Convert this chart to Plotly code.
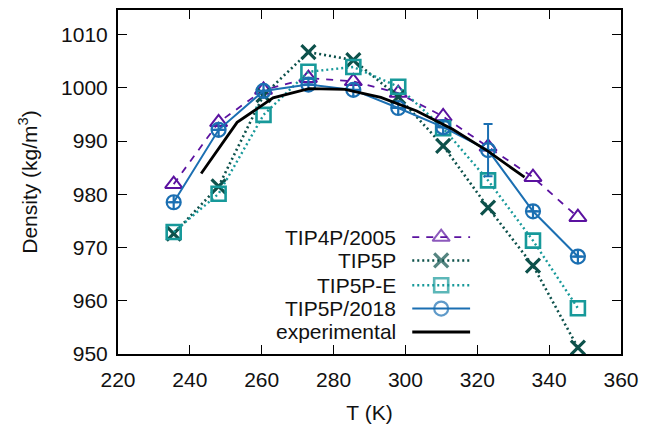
import plotly.graph_objects as go

# ---------------- data ----------------
T_sim = [235.5, 248.0, 260.5, 273.0, 285.5, 298.0, 310.5, 323.0, 335.5, 348.0]
rho_tip4p2005 = [981.9, 993.5, 999.6, 1001.8, 1001.2, 999.0, 994.6, 988.9, 983.2, 975.7]
rho_tip5p = [972.6, 981.5, 998.6, 1006.7, 1005.2, 998.3, 989.1, 977.5, 966.6, 951.2]
rho_tip5pe = [972.9, 980.1, 994.9, 1003.0, 1003.9, 1000.2, 992.4, 982.6, 971.3, 958.6]
rho_tip5p2018 = [978.5, 992.1, 999.4, 1000.6, 999.6, 996.2, 992.6, 988.3, 976.8, 968.3]
err_tip5p2018 = [None, None, None, None, None, None, None, 4.9, None, None]

T_exp = [243.15, 253.15, 263.15, 273.15, 283.15, 293.15, 303.15, 313.15, 323.15, 333.15]
rho_exp = [983.9, 993.5, 998.1, 999.84, 999.7, 998.2, 995.65, 992.2, 988.0, 983.2]

x_ticks = [220, 240, 260, 280, 300, 320, 340, 360]
y_ticks = [950, 960, 970, 980, 990, 1000, 1010]

names = ["TIP4P/2005", "TIP5P", "TIP5P-E", "TIP5P/2018", "experimental"]

# ---------------- styles ----------------
FONT = "Liberation Sans, Arial, sans-serif"
C4 = "#5b12a0"
C5 = "#0d514b"
C5E = "#17999a"
C18 = "#1b6fb2"
CEXP = "#000000"

styles = [
    dict(color=C4, dash="7px,7px", width=1.8, symbol="triangle-up-open", msize=15, mlw=2),
    dict(color=C5, dash="2px,3px", width=2.6, symbol="x-thin-open", msize=14, mlw=3.2),
    dict(color=C5E, dash="2px,3px", width=2.4, symbol="square-open", msize=14, mlw=2.6),
    dict(color=C18, dash="solid", width=2.0, symbol="circle-open", msize=14, mlw=2.2),
    dict(color=CEXP, dash="solid", width=2.8, symbol=None, msize=0, mlw=0),
]

fig = go.Figure()

series = [rho_tip4p2005, rho_tip5p, rho_tip5pe, rho_tip5p2018]
for i, ys in enumerate(series):
    st = styles[i]
    sym = st["symbol"]
    if names[i] == "TIP5P/2018":
        sym = "circle-cross-open"
    kw = {}
    if names[i] == "TIP5P/2018":
        kw["error_y"] = dict(type="data", array=[e if e is not None else 0 for e in err_tip5p2018],
                             visible=True, color=C18, thickness=2, width=4.5)
    fig.add_trace(go.Scatter(
        x=T_sim, y=ys, mode="lines+markers", name=names[i], showlegend=False,
        line=dict(color=st["color"], dash=st["dash"], width=st["width"]),
        marker=dict(symbol=sym, size=st["msize"], color=st["color"],
                    line=dict(color=st["color"], width=st["mlw"])),
        **kw))

fig.add_trace(go.Scatter(
    x=T_exp, y=rho_exp, mode="lines", name="experimental", showlegend=False,
    line=dict(color=CEXP, width=styles[4]["width"])))

# ---------------- manual gnuplot-style legend (text left, sample right) ----------------
leg_x0, leg_xm, leg_x1 = 0.585, 0.6425, 0.700
leg_text_x = 0.557
leg_rows = [0.340, 0.272, 0.200, 0.132, 0.064]
for i, nm in enumerate(names):
    st = styles[i]
    yy = leg_rows[i]
    if st["symbol"]:
        fig.add_trace(go.Scatter(
            x=[leg_x0, leg_xm, leg_x1], y=[yy, yy, yy], xaxis="x2", yaxis="y2",
            mode="lines+markers", showlegend=False, hoverinfo="skip",
            line=dict(color=st["color"], dash=st["dash"], width=st["width"]),
            marker=dict(symbol=st["symbol"], size=[0, st["msize"], 0], color=st["color"],
                        line=dict(color=st["color"], width=st["mlw"]))))
    else:
        fig.add_trace(go.Scatter(
            x=[leg_x0, leg_x1], y=[yy, yy], xaxis="x2", yaxis="y2",
            mode="lines", showlegend=False, hoverinfo="skip",
            line=dict(color=st["color"], width=st["width"])))
    fig.add_annotation(x=leg_text_x, y=yy, xref="paper", yref="paper", text=nm,
                       showarrow=False, xanchor="right", yanchor="middle",
                       font=dict(family=FONT, size=21, color="#111111"))

axis_common = dict(
    showgrid=False, zeroline=False, showline=True, linecolor="#000000", linewidth=2,
    mirror="ticks", ticks="inside", ticklen=9, tickwidth=1.2, tickcolor="#000000",
    tickfont=dict(family=FONT, size=21, color="#111111"), automargin=False,
)

fig.update_layout(
    width=655, height=426,
    margin=dict(l=117.5, r=34, t=10, b=72.3),
    paper_bgcolor="white", plot_bgcolor="white",
    xaxis=dict(range=[220, 360], tickvals=x_ticks, ticklabelstandoff=6,
               title=dict(text="T (K)", font=dict(family=FONT, size=21, color="#111111"), standoff=15),
               **axis_common),
    yaxis=dict(range=[950, 1014.6], tickvals=y_ticks, ticklabelstandoff=4,
               title=dict(text="Density (kg/m<sup>3</sup>)", font=dict(family=FONT, size=21, color="#111111"),
                          standoff=18),
               **axis_common),
    xaxis2=dict(range=[0, 1], overlaying="x", visible=False, fixedrange=True),
    yaxis2=dict(range=[0, 1], overlaying="y", visible=False, fixedrange=True),
    showlegend=False,
)

fig.write_html("out.html")
